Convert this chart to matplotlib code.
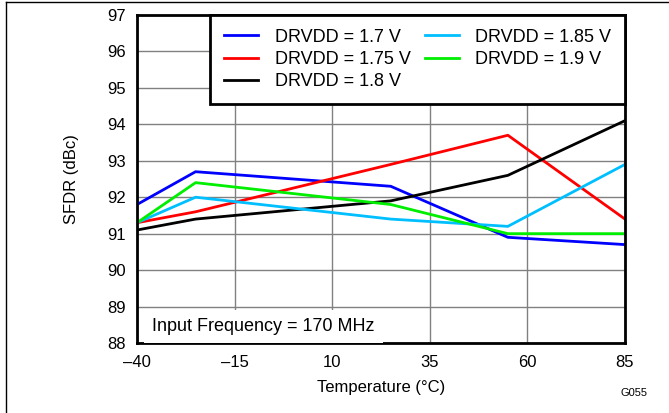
import matplotlib.pyplot as plt
from matplotlib.lines import Line2D

plt.rcParams['font.family'] = ['Liberation Sans', 'DejaVu Sans']

# Data
temps = [-40, -25, 25, 55, 85]
sfdr_170 = [91.8, 92.7, 92.3, 90.9, 90.7]
sfdr_175 = [91.3, 91.6, 92.9, 93.7, 91.4]
sfdr_180 = [91.1, 91.4, 91.9, 92.6, 94.1]
sfdr_185 = [91.3, 92.0, 91.4, 91.2, 92.9]
sfdr_190 = [91.3, 92.4, 91.8, 91.0, 91.0]

labels = ['DRVDD = 1.7 V', 'DRVDD = 1.75 V', 'DRVDD = 1.8 V',
          'DRVDD = 1.85 V', 'DRVDD = 1.9 V']
colors = ['#0000ff', '#ff0000', '#000000', '#00bfff', '#00ee00']
xticks = [-40, -15, 10, 35, 60, 85]
yticks = list(range(88, 98))

fig = plt.figure(figsize=(6.69, 4.13), dpi=100)
ax = fig.add_axes([0.2048, 0.1695, 0.7294, 0.7942])

series = [sfdr_170, sfdr_175, sfdr_180, sfdr_185, sfdr_190]
for vals, lab, c in zip(series, labels, colors):
    ax.plot(temps, vals, color=c, lw=2, label=lab)

ax.set_xlim(-40, 85)
ax.set_ylim(88, 97)
ax.set_xticks(xticks)
ax.set_xticklabels([str(t).replace('-', '\u2013') for t in xticks])
ax.set_yticks(yticks)
ax.tick_params(length=0, labelsize=12)
ax.tick_params(axis='x', pad=9)
ax.tick_params(axis='y', pad=8)
ax.set_axisbelow(True)
ax.grid(True, color='#808080', lw=1)
for s in ax.spines.values():
    s.set_linewidth(2)
    s.set_color('black')

ax.set_xlabel('Temperature (\u00b0C)', fontsize=12, labelpad=7)
ax.set_ylabel('SFDR (dBc)', fontsize=12, labelpad=20)

leg = ax.legend(loc='upper right', ncol=2, fontsize=13, borderaxespad=0,
                fancybox=False, framealpha=1, edgecolor='black',
                handlelength=1.9, columnspacing=0.8, labelspacing=0.3,
                borderpad=0.75, handletextpad=0.9)
leg.get_frame().set_linewidth(2)

ax.text(-36.2, 88.45, 'Input Frequency = 170 MHz', fontsize=13, va='center',
        bbox=dict(facecolor='white', edgecolor='none', pad=6), zorder=5)

fig.text(0.968, 0.048, 'G055', fontsize=8, ha='right', va='center')

# partial frame around the figure
fig.add_artist(Line2D([0.009, 0.009], [0, 0.995], color='black', lw=1,
                      transform=fig.transFigure))
fig.add_artist(Line2D([0.009, 1], [0.995, 0.995], color='black', lw=1,
                      transform=fig.transFigure))

fig.savefig('out.png', dpi=100)
